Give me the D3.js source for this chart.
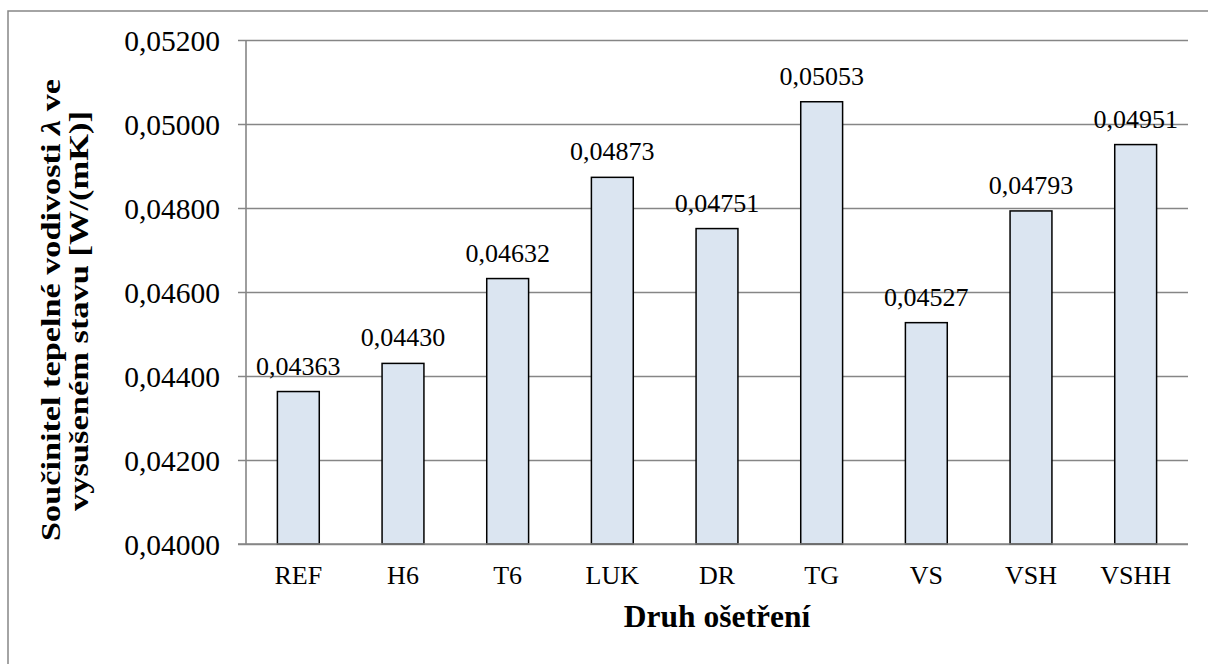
<!DOCTYPE html>
<html>
<head>
<meta charset="utf-8">
<script src="https://cdn.jsdelivr.net/npm/d3@7/dist/d3.min.js"></script>
<style>
  html, body { margin: 0; padding: 0; background: #ffffff; }
  svg { display: block; }
  text { font-family: "Liberation Serif", "Times New Roman", serif; fill: #000; }
</style>
</head>
<body>
<svg id="chart" width="1208" height="664"></svg>
<script>
const categories = ["REF", "H6", "T6", "LUK", "DR", "TG", "VS", "VSH", "VSHH"];
const values = [0.04363, 0.04430, 0.04632, 0.04873, 0.04751, 0.05053, 0.04527, 0.04793, 0.04951];
const yTicks = [0.040, 0.042, 0.044, 0.046, 0.048, 0.050, 0.052];
const yDomain = [0.040, 0.052];
const xTitle = "Druh ošetření";
const yTitleLine1 = ["Součinitel tepelné vodivosti ", "λ", " ve"];
const yTitleLine2 = "vysušeném stavu [W/(mK)]";

const svg = d3.select("#chart");
const m = { left: 246, right: 1188, top: 40, bottom: 544 };
const gray = "#868686";

// outer border
svg.append("rect")
  .attr("x", 8).attr("y", 11).attr("width", 1400).attr("height", 900)
  .attr("fill", "none").attr("stroke", gray).attr("stroke-width", 1.5);

const x = d3.scaleBand().domain(categories).range([m.left, m.right]).paddingInner(0.6).paddingOuter(0.3);
const y = d3.scaleLinear().domain(yDomain).range([m.bottom, m.top]);

const fmt = v => d3.format(".5f")(v).replace(".", ",");

// gridlines + ticks via axis
const yAxis = d3.axisLeft(y).tickValues(yTicks).tickSize(-(m.right - m.left)).tickFormat(fmt).tickPadding(26);
const gy = svg.append("g").attr("transform", `translate(${m.left},0)`).call(yAxis);
gy.select(".domain").remove();
gy.selectAll(".tick line").attr("stroke", gray).attr("stroke-width", 1.6).attr("x1", -8);
gy.selectAll(".tick text")
  .attr("font-size", 29.5).attr("fill", "#000").attr("dy", "0.34em");

// y axis line
svg.append("line").attr("x1", m.left).attr("x2", m.left).attr("y1", m.top).attr("y2", m.bottom)
  .attr("stroke", gray).attr("stroke-width", 1.6);

// bars
svg.append("g").selectAll("rect").data(values).join("rect")
  .attr("x", (d, i) => x(categories[i]))
  .attr("y", d => y(d))
  .attr("width", x.bandwidth())
  .attr("height", d => y(yDomain[0]) - y(d))
  .attr("fill", "#dbe5f1").attr("stroke", "#000").attr("stroke-width", 1.5);

// baseline redraw
svg.append("line").attr("x1", m.left - 8).attr("x2", m.right).attr("y1", m.bottom).attr("y2", m.bottom)
  .attr("stroke", gray).attr("stroke-width", 1.6);

// data labels
svg.append("g").selectAll("text").data(values).join("text")
  .attr("x", (d, i) => x(categories[i]) + x.bandwidth() / 2)
  .attr("y", d => y(d) - 17)
  .attr("text-anchor", "middle").attr("font-size", 26)
  .text(d => fmt(d));

// x axis labels
const xAxis = d3.axisBottom(x).tickSize(0).tickPadding(0);
const gx = svg.append("g").attr("transform", `translate(0,${m.bottom})`).call(xAxis);
gx.select(".domain").remove();
gx.selectAll(".tick text")
  .attr("font-size", 26).attr("fill", "#000").attr("y", 40).attr("dy", 0);

// x title
svg.append("text").attr("x", (m.left + m.right) / 2).attr("y", 627)
  .attr("text-anchor", "middle").attr("font-size", 31.5).attr("font-weight", "bold")
  .text(xTitle);

// y title
const yt1 = svg.append("text").attr("transform", "translate(60,310) rotate(-90)")
  .attr("text-anchor", "middle").attr("font-size", 28).attr("font-weight", "bold")
  .attr("textLength", 462).attr("lengthAdjust", "spacingAndGlyphs");
yTitleLine1.forEach((t, i) => {
  const ts = yt1.append("tspan").text(t);
  if (i === 1) ts.attr("font-style", "italic");
});
svg.append("text").attr("transform", "translate(88,311) rotate(-90)")
  .attr("text-anchor", "middle").attr("font-size", 28).attr("font-weight", "bold")
  .attr("textLength", 400).attr("lengthAdjust", "spacingAndGlyphs")
  .text(yTitleLine2);
</script>
</body>
</html>
